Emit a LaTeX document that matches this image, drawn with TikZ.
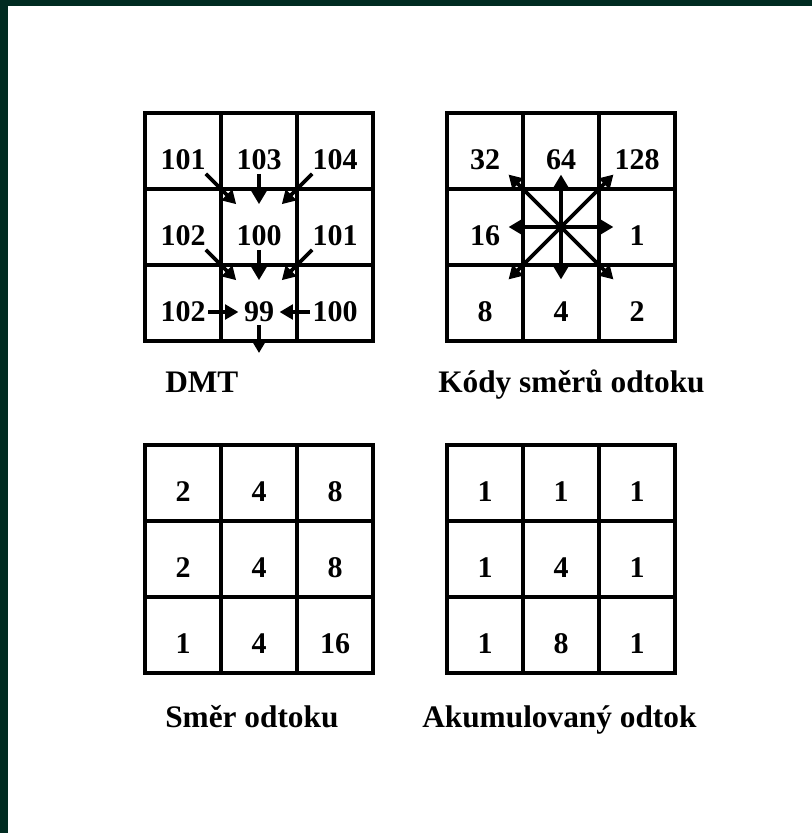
\documentclass[tikz,border=0pt]{standalone}
\usepackage{fontspec}
\setmainfont{Liberation Serif}
\usetikzlibrary{arrows.meta,calc}
\definecolor{frameGreen}{HTML}{002B21}

\begin{document}
\begin{tikzpicture}[
    x=0.75pt, y=-0.75pt,
    cell/.style={draw, rectangle, minimum size=57pt, inner sep=0pt, line width=2.9pt},
    num/.style={font=\fontsize{22.5}{26}\selectfont\bfseries, inner sep=2pt},
    caption/.style={font=\fontsize{23.5}{27}\selectfont\bfseries, inner sep=0pt, anchor=base west},
    arrow/.style={-{Triangle[length=10pt, width=11pt]}, line width=2.7pt}
]
    % frame
    \fill[frameGreen] (0,0) rectangle (812,833);
    \fill[white] (8,6) rectangle (812,833);
    \useasboundingbox (0,0) rectangle (812,833);

    % the four 3x3 grids
    \foreach \g/\gx/\gy/\vals in {
        dmt/183/151/{101,103,104,102,100,101,102,99,100},
        kod/485/151/{32,64,128,16,{},1,8,4,2},
        smer/183/483/{2,4,8,2,4,8,1,4,16},
        akum/485/483/{1,1,1,1,4,1,1,8,1}} {
      \foreach \v [count=\i from 0] in \vals {
        \pgfmathtruncatemacro{\row}{\i/3}
        \pgfmathtruncatemacro{\col}{mod(\i,3)}
        \node[cell] (\g-\row\col) at ({\gx+76*\col},{\gy+76*\row}) {};
        \node[num] (\g-n\row\col) at ({\gx+76*\col},{\gy+9+76*\row}) {\v};
      }
    }

    % DMT flow
    \foreach \a/\b in {00/11, 01/11, 02/11, 10/21, 11/21, 12/21}
      \draw[arrow] ($(dmt-\a.center)!0.3!(dmt-\b.center)$) -- ($(dmt-\a.center)!0.7!(dmt-\b.center)$);
    \draw[arrow, shorten >=2pt] (dmt-n20) -- (dmt-n21);
    \draw[arrow, shorten >=2pt] (dmt-n22) -- (dmt-n21);
    \coordinate (dmt-out) at ($(dmt-21.center)+(0,50)$);
    \draw[arrow] (dmt-n21) -- (dmt-out);

    % direction codes
    \foreach \n in {00,01,02,10,12,20,21,22}
      \draw[arrow] (kod-11.center) -- ($(kod-11.center)!0.69!(kod-\n.center)$);

    % captions
    \node[caption] (cap-dmt) at (165,392) {DMT};
    \node[caption] (cap-kod) at (438,392) {Kódy směrů odtoku};
    \node[caption] (cap-smer) at (165,727) {Směr odtoku};
    \node[caption] (cap-akum) at (422,727) {Akumulovaný odtok};
\end{tikzpicture}
\end{document}
